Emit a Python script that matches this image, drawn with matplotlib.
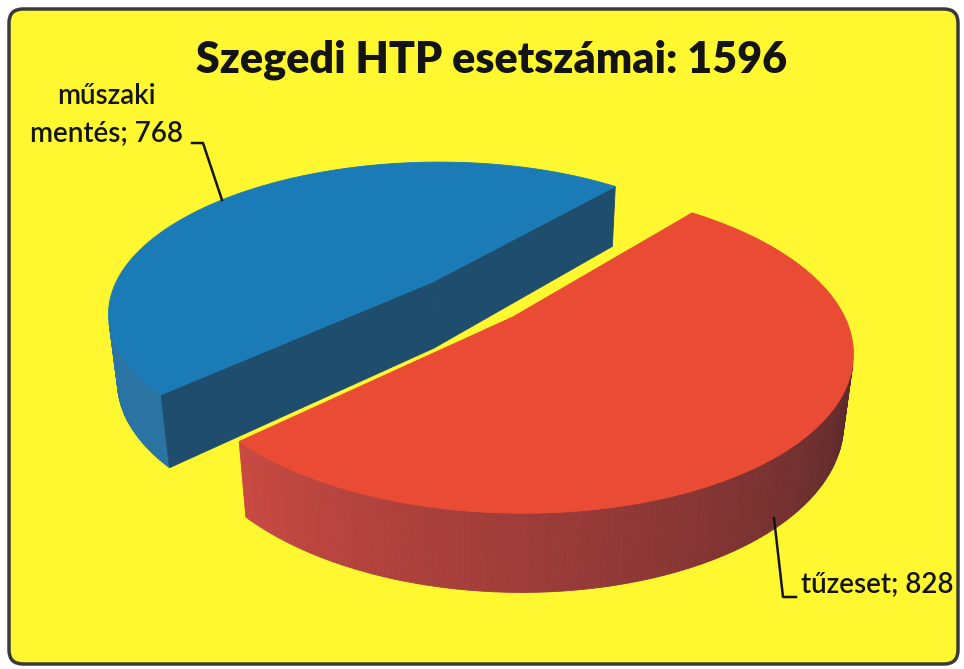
import numpy as np
import matplotlib.pyplot as plt
from matplotlib.patches import Polygon, FancyBboxPatch

# data
categories = ['tűzeset', 'műszaki\nmentés']
values = [828, 768]
title = 'Szegedi HTP esetszámai: ' + str(sum(values))

top_colors = ['#e94b35', '#1b7bb6']
side_colors = [('#cc4a43', '#4a2428'), ('#2a74a5', '#2a74a5')]
cut_colors = ['#8e2f2c', '#1f4d6d']

# 3d look of the pie
ALPHA = np.radians(27.5)
DIST = 4.5
SCALE = 324
CX, CY = 472, 299
H = 0.24
EXPLODE = 0.17
START = 50

cam = DIST * np.array([0, -np.cos(ALPHA), np.sin(ALPHA)])


def project(X, Y, Z):
    d = DIST + Y * np.cos(ALPHA) - Z * np.sin(ALPHA)
    u = X * DIST / d
    v = (Y * np.sin(ALPHA) + Z * np.cos(ALPHA)) * DIST / d
    return np.column_stack([CX + SCALE * u, CY - SCALE * v])


def visible(p, n):
    return np.dot(cam - p, n) > 0


fig = plt.figure(figsize=(9.64, 6.69), dpi=100)
fig.patch.set_facecolor('white')
ax = fig.add_axes([0, 0, 1, 1])
ax.set_xlim(0, 964)
ax.set_ylim(669, 0)
ax.axis('off')

ax.add_patch(FancyBboxPatch((9, 9), 949, 655, boxstyle='round,pad=0,rounding_size=14',
                            facecolor='#fff830', edgecolor='#3a3a3a', lw=2.5))

# slices, clockwise from START
angles = np.array(values) / sum(values) * 360
slices = []
a0 = START
for i, a in enumerate(angles):
    a1 = a0 - a
    mid = np.radians((a0 + a1) / 2)
    ox, oy = EXPLODE * np.cos(mid), EXPLODE * np.sin(mid)
    slices.append((i, a0, a1, ox, oy))
    a0 = a1

# back slices first
slices.sort(key=lambda s: -s[4])

for i, a0, a1, ox, oy in slices:
    th = np.radians(np.linspace(a0, a1, 240))
    X = ox + np.cos(th)
    Y = oy + np.sin(th)
    top = project(X, Y, np.zeros_like(X))
    bot = project(X, Y, np.full_like(X, -H))

    # outer side
    c_light, c_dark = side_colors[i]
    cl = np.array(plt.matplotlib.colors.to_rgb(c_light))
    cd = np.array(plt.matplotlib.colors.to_rgb(c_dark))
    for k in range(len(th) - 1):
        tm = (th[k] + th[k + 1]) / 2
        p = np.array([ox + np.cos(tm), oy + np.sin(tm), -H / 2])
        if not visible(p, np.array([np.cos(tm), np.sin(tm), 0])):
            continue
        t = np.clip((np.degrees(tm) + 140) / 140, 0, 1)
        col = cl * (1 - t) + cd * t
        quad = [top[k], top[k + 1], bot[k + 1], bot[k]]
        ax.add_patch(Polygon(quad, closed=True, facecolor=col, edgecolor=col, lw=0.6))

    # cut faces
    ctop = project(np.array([ox]), np.array([oy]), np.array([0.0]))[0]
    cbot = project(np.array([ox]), np.array([oy]), np.array([-H]))[0]
    for ang, sgn, j in [(a0, 90, 0), (a1, -90, -1)]:
        r = np.radians(ang)
        nrm = np.array([np.cos(r + np.radians(sgn)), np.sin(r + np.radians(sgn)), 0])
        p = np.array([ox + 0.5 * np.cos(r), oy + 0.5 * np.sin(r), -H / 2])
        if visible(p, nrm):
            ax.add_patch(Polygon([ctop, top[j], bot[j], cbot], closed=True,
                                 facecolor=cut_colors[i], edgecolor=cut_colors[i], lw=0.6))

    ax.add_patch(Polygon(np.vstack([ctop, top]), closed=True,
                         facecolor=top_colors[i], edgecolor=top_colors[i], lw=0.6))

ax.text(492, 60, title, ha='center', va='center', fontsize=31,
        fontweight='heavy', family='Lato', color='#141414')

ax.text(106, 115, categories[1] + '; ' + str(values[1]), ha='center', va='center',
        fontsize=20, fontweight='semibold', family='Lato', color='#141414',
        linespacing=1.55)
ax.plot([192, 203, 222], [143, 143, 200], color='#141414', lw=1.8)

ax.text(801, 585, categories[0] + '; ' + str(values[0]), ha='left', va='center',
        fontsize=20, fontweight='semibold', family='Lato', color='#141414')
ax.plot([774, 783, 796], [518, 597, 597], color='#141414', lw=1.8)

fig.savefig('out.png', dpi=100, facecolor='white')
